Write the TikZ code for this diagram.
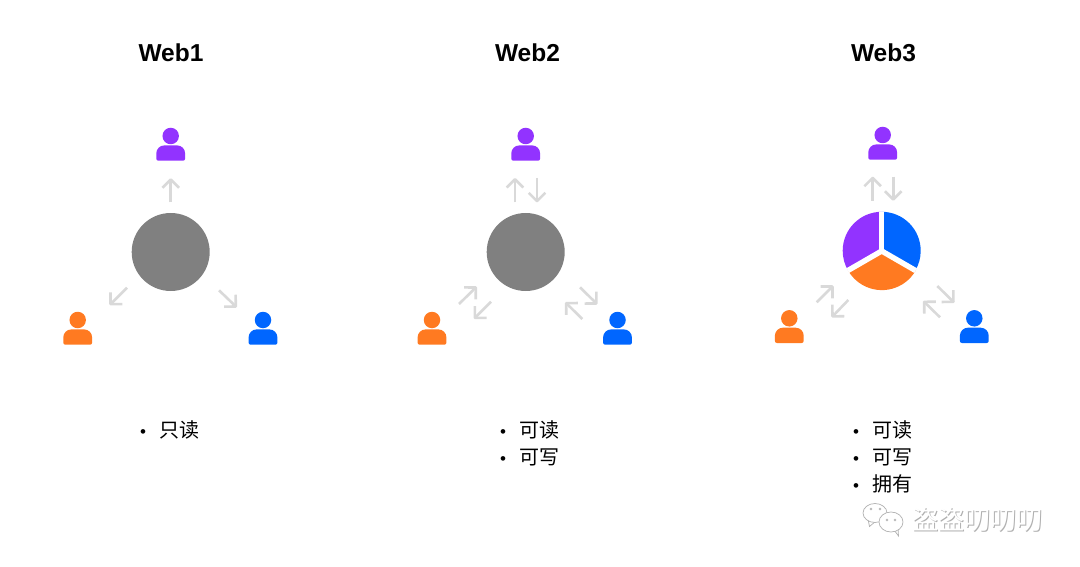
\documentclass[tikz,border=0pt]{standalone}
\usepackage{fontspec}
\setmainfont{Liberation Sans}
\newfontfamily\cjkfont{Noto Sans CJK SC}
\usetikzlibrary{arrows.meta,positioning}
\definecolor{usrpurple}{HTML}{9233FF}
\definecolor{usrorange}{HTML}{FF7A21}
\definecolor{usrblue}{HTML}{0066FF}
\definecolor{hubgray}{HTML}{808080}
\definecolor{arrgray}{HTML}{D9D9D9}
\definecolor{markgray}{HTML}{B0B0B0}
\newcommand{\itembul}{\makebox[20.5pt][l]{\hspace{0.8pt}\rmfamily\fontsize{17}{27}\selectfont •}}
\pgfdeclarearrow{
  name=Vee,
  setup code={
    \pgfarrowssettipend{0pt}
    \pgfarrowssetlineend{-1.5pt}
    \pgfarrowssetvisualbackend{-9pt}
    \pgfarrowssetbackend{-9pt}
    \pgfarrowshullpoint{0pt}{0pt}
    \pgfarrowshullpoint{-9pt}{8.5pt}
    \pgfarrowshullpoint{-9pt}{-8.5pt}
  },
  drawing code={
    \pgfsetdash{}{0pt}
    \pgfsetroundjoin
    \pgfpathmoveto{\pgfpoint{-9.5pt}{8.3pt}}
    \pgfpathlineto{\pgfpoint{-1.2pt}{0pt}}
    \pgfpathlineto{\pgfpoint{-9.5pt}{-8.3pt}}
    \pgfusepathqstroke
  }
}

\begin{document}
\begin{tikzpicture}[
  x=1pt, y=-1pt,
  title/.style={font=\fontsize{24.5}{28}\selectfont\bfseries, inner sep=0pt},
  hub/.style={circle, fill=hubgray, minimum size=78pt, inner sep=0pt},
  hubpart/.style={circle, minimum size=78pt, inner sep=0pt},
  head/.style={circle, minimum size=16.5pt, inner sep=0pt},
  arr/.style={-Vee, line width=2.6pt, arrgray},
  items/.style={anchor=north west, align=left, inner sep=0pt, font=\fontsize{20}{27}\selectfont\cjkfont},
  gap/.style={white, line width=5.4pt},
  bubble/.style={markgray, fill=white, line width=0.7pt},
  eye/.style={circle, draw=markgray, line width=0.5pt, minimum size=2pt, inner sep=0pt},
  marktext/.style={inner sep=0pt, anchor=west, font=\fontsize{26.2}{28}\selectfont\cjkfont},
  torso/.pic={
    \fill[#1] (-14.4,24.7) [rounded corners=8pt] -- (-14.4,9.4) -- (14.4,9.4) [rounded corners=2pt] -- (14.4,24.7) -- cycle;
  }
]
\useasboundingbox (0,0) rectangle (1080,567);

% titles
\node[title] (web1) at (171,53) {Web1};
\node[title] (web2) at (527.5,53) {Web2};
\node[title] (web3) at (883.5,53) {Web3};

% hubs
\node[hub] (hub1) at (170.7,252) {};
\node[hub] (hub2) at (525.7,252) {};
\node[hubpart] (hub3) at (881.7,251) {};
\fill[usrblue] (hub3.center) -- (hub3.90) arc[start angle=90, end angle=-30, radius=39pt] -- cycle;
\fill[usrorange] (hub3.center) -- (hub3.-30) arc[start angle=-30, end angle=-150, radius=39pt] -- cycle;
\fill[usrpurple] (hub3.center) -- (hub3.90) arc[start angle=90, end angle=210, radius=39pt] -- cycle;
\foreach \ang in {90,-30,210}
  \draw[gap] (hub3.center) -- (hub3.\ang);

% users
\foreach \name/\px/\py/\col in {
  top1/170.7/136/usrpurple, left1/77.7/320/usrorange, right1/263/320/usrblue,
  top2/525.7/136/usrpurple, left2/432/320/usrorange, right2/617.5/320/usrblue,
  top3/882.7/135/usrpurple, left3/789.3/318.3/usrorange, right3/974.3/318.3/usrblue}{
  \node[head, fill=\col] (\name) at (\px,\py) {};
  \pic at (\name) {torso=\col};
}

% arrows
\foreach \i/\xa/\ya/\xb/\yb in {
  1/170.7/202.3/170.7/178.3, 2/127/287.7/109.7/305, 3/219/290.3/236.7/307.3,
  4/515/202.3/515/178, 5/537/178/537/202.3, 6/459/304/476.7/286.7, 7/491/301.7/474/318.7,
  8/580/287.3/597.3/304.3, 9/582.3/319/565.3/302.3,
  10/872.7/201/872.7/176.7, 11/893.3/176.7/893.3/200.7, 12/816.7/302.3/833.3/285.7,
  13/848.3/300/831.7/317.3, 14/937.3/286/954.3/302.7, 15/940/317.3/923.3/301}{
  \coordinate (arrs\i) at (\xa,\ya);
  \coordinate (arre\i) at (\xb,\yb);
  \draw[arr] (arrs\i) -- (arre\i);
}

% lists
\node[items] (list1) at (139,420) {\itembul 只读};
\node[items] (list2) at (499,420) {\itembul 可读\\\itembul 可写};
\node[items] (list3) at (852,420) {\itembul 可读\\\itembul 可写\\\itembul 拥有};

% watermark
\draw[bubble] (868,519) -- (869.5,526.5) -- (876,521);
\draw[bubble] (875,513) ellipse[x radius=12pt, y radius=9.5pt];
\draw[bubble] (894,530) -- (898.5,536) -- (898,528);
\draw[bubble] (891,522) ellipse[x radius=12pt, y radius=10pt];
\foreach \i/\ex/\ey in {1/871/509, 2/880/509, 3/887/520, 4/895/520}
  \node[eye] (eye\i) at (\ex,\ey) {};
\node[marktext, markgray] (markback) at (912.8,520.2) {盗盗叨叨叨};
\node[marktext, white] (mark) at (911.8,519.4) {盗盗叨叨叨};
\end{tikzpicture}
\end{document}
